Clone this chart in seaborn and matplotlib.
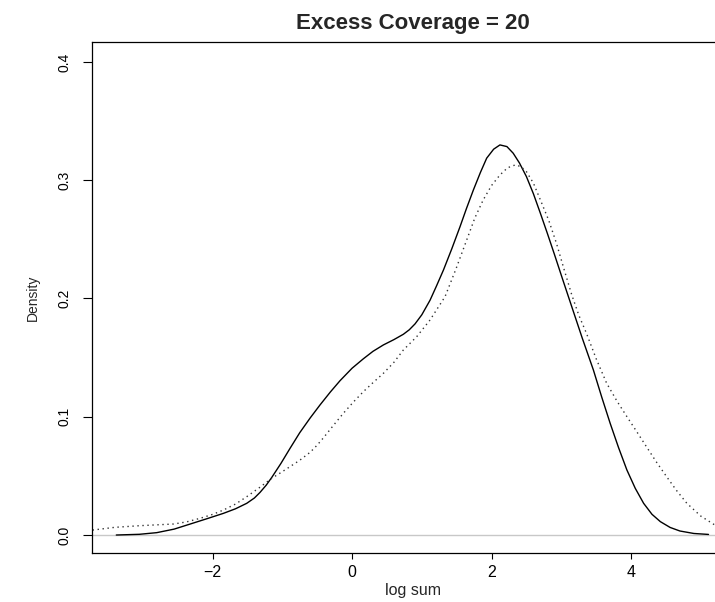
import matplotlib
matplotlib.use("Agg")
import matplotlib.pyplot as plt
import seaborn as sns
import pandas as pd

# density curves (x = log sum, y = density)
solid_x = [-3.38, -3.05, -2.80, -2.55, -2.32, -2.08, -1.845, -1.67, -1.51, -1.40,
           -1.32, -1.23, -1.15, -1.02, -0.89, -0.75, -0.60, -0.459, -0.31, -0.172,
           0.0, 0.162, 0.30, 0.449, 0.60, 0.735, 0.82, 0.903, 1.0, 1.118,
           1.21, 1.31, 1.43, 1.548, 1.64, 1.74, 1.84, 1.93, 2.03, 2.12,
           2.22, 2.31, 2.40, 2.50, 2.60, 2.70, 2.80, 2.90, 3.02, 3.15,
           3.30, 3.46, 3.58, 3.70, 3.82, 3.94, 4.06, 4.18, 4.30, 4.42,
           4.56, 4.70, 4.90, 5.11]
solid_y = [0.000, 0.0006, 0.002, 0.005, 0.0093, 0.0138, 0.0183, 0.0222, 0.0268, 0.0313,
           0.0360, 0.0422, 0.0488, 0.0605, 0.0732, 0.0865, 0.0990, 0.1100, 0.1210, 0.1305,
           0.1410, 0.1490, 0.1553, 0.1607, 0.1652, 0.1697, 0.1735, 0.1785, 0.1862, 0.1985,
           0.2105, 0.2240, 0.2420, 0.2607, 0.2760, 0.2918, 0.3065, 0.3186, 0.3262, 0.3298,
           0.3284, 0.3228, 0.3145, 0.3030, 0.2885, 0.2720, 0.2550, 0.2375, 0.2160, 0.1930,
           0.1665, 0.1395, 0.1165, 0.0945, 0.0740, 0.0550, 0.0395, 0.0268, 0.0175, 0.0113,
           0.0064, 0.0034, 0.0013, 0.0005]

dotted_x = [-3.72, -3.40, -3.04, -2.80, -2.56, -2.38, -2.18, -2.00, -1.845, -1.67,
            -1.51, -1.33, -1.15, -1.02, -0.89, -0.75, -0.60, -0.50, -0.41, -0.27,
            -0.125, 0.02, 0.162, 0.30, 0.449, 0.60, 0.735, 0.927, 1.118, 1.333,
            1.49, 1.644, 1.76, 1.88, 2.00, 2.12, 2.23, 2.34, 2.42, 2.50,
            2.60, 2.70, 2.82, 2.93, 3.04, 3.15, 3.25, 3.36, 3.50, 3.65,
            3.80, 3.94, 4.08, 4.22, 4.36, 4.51, 4.65, 4.80, 5.00, 5.20,
            5.40]
dotted_y = [0.0042, 0.0065, 0.0079, 0.0086, 0.0093, 0.0110, 0.0141, 0.0174, 0.0211, 0.0262,
            0.0324, 0.0400, 0.0480, 0.0528, 0.0578, 0.0632, 0.0700, 0.0760, 0.0822, 0.0925,
            0.1029, 0.1125, 0.1212, 0.1288, 0.1367, 0.1460, 0.1564, 0.1677, 0.1818, 0.2015,
            0.2250, 0.2495, 0.2680, 0.2833, 0.2955, 0.3044, 0.3105, 0.3129, 0.3115, 0.3072,
            0.2975, 0.2833, 0.2660, 0.2467, 0.2245, 0.2030, 0.1860, 0.1706, 0.1490, 0.1283,
            0.1130, 0.1001, 0.0875, 0.0747, 0.0620, 0.0493, 0.0378, 0.0268, 0.0160, 0.0085,
            0.0040]

x_ticks = [-2, 0, 2, 4]
y_ticks = [0.0, 0.1, 0.2, 0.3, 0.4]

sns.set_style("ticks")
plt.rcParams['font.family'] = ['Liberation Sans', 'DejaVu Sans']

df_solid = pd.DataFrame({'x': solid_x, 'y': solid_y})
df_dot = pd.DataFrame({'x': dotted_x, 'y': dotted_y})

fig = plt.figure(figsize=(7.15, 6.02), dpi=100)
ax = fig.add_axes([0.1287, 0.0814, 0.898, 0.849])

ax.axhline(0, color='#c8c8c8', lw=1.0, zorder=1)
sns.lineplot(data=df_solid, x='x', y='y', ax=ax, color='black', lw=1.0,
             estimator=None, sort=False)
sns.lineplot(data=df_dot, x='x', y='y', ax=ax, color='#333333', lw=1.0,
             estimator=None, sort=False, linestyle=(0, (1, 2.6)))

ax.set_xlim(-3.728, 5.477)
ax.set_ylim(-0.0152, 0.4169)
ax.set_xticks(x_ticks)
ax.set_xticklabels([f'{v}'.replace('-', '\u2212') for v in x_ticks], fontsize=11.5)
ax.set_yticks(y_ticks)
ax.set_yticklabels([f'{v:.1f}' for v in y_ticks], fontsize=10, rotation=90, va='center')
ax.tick_params(axis='x', length=4.5, width=0.8, pad=4, colors='black')
ax.tick_params(axis='y', length=6.5, width=0.8, pad=8, colors='black')

for s in ax.spines.values():
    s.set_visible(True)
    s.set_color('black')
    s.set_linewidth(0.9)

ax.set_xlabel('log sum', fontsize=11.5, labelpad=2)
ax.set_ylabel('Density', fontsize=10, labelpad=13)
ax.set_title('Excess Coverage = 20', fontsize=16, fontweight='bold', pad=9)

fig.savefig('out.png', dpi=100)
